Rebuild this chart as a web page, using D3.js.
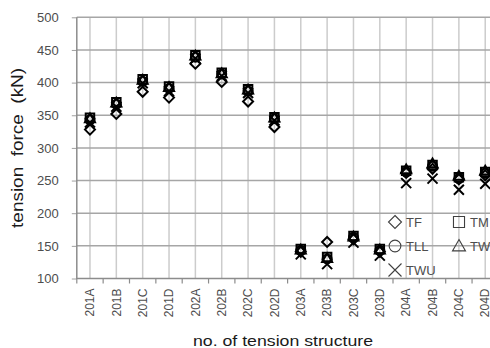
<!DOCTYPE html>
<html>
  <head>
    <meta charset="utf-8">
    <script src="https://d3js.org/d3.v7.min.js"></script>
    <style>
      body { margin: 0; background: #fff; }
      svg { display: block; font-family: "Liberation Sans", Arial, sans-serif; }
      .tick text { fill: #4d4d4d; }
      .axis-label { fill: #1a1a1a; }
      .legend text { fill: #4d4d4d; font-size: 13px; }
    </style>
  </head>
  <body>
    <svg width="490" height="348"></svg>
    <script>
      // data
      const categories = ['201A', '201B', '201C', '201D', '202A', '202B', '202C', '202D',
                          '203A', '203B', '203C', '203D', '204A', '204B', '204C', '204D'];
      const TF  = [328, 352, 386, 377, 429, 401, 371, 332, 141, 156, 160, 141, 262, 268, 252, 258];
      const TM  = [346, 370, 405, 394, 442, 415, 390, 347, 145, 133, 165, 145, 265, 274, 255, 263];
      const TLL = [343, 367, 402, 391, 439, 413, 387, 345, 143, 130, 163, 143, 263, 272, 253, 261];
      const TWL = [345, 369, 404, 393, 441, 414, 389, 346, 144, 131, 164, 144, 267, 276, 257, 265];
      const TWU = [339, 363, 399, 387, 437, 410, 384, 342, 137, 122, 155, 135, 246, 253, 236, 245];
      const yTicks = [100, 150, 200, 250, 300, 350, 400, 450, 500];

      const series = [
        { name: 'TF',  values: TF,  shape: 'diamond' },
        { name: 'TM',  values: TM,  shape: 'square' },
        { name: 'TLL', values: TLL, shape: 'circle' },
        { name: 'TWL', values: TWL, shape: 'triangle' },
        { name: 'TWU', values: TWU, shape: 'cross' }
      ];

      const svg = d3.select('svg');
      const margin = { left: 76.8, top: 17.3 };
      const innerWidth = 421.6;   // runs past the right edge, as in the original
      const innerHeight = 261.2;

      const g = svg.append('g')
          .attr('transform', `translate(${margin.left}, ${margin.top})`);

      const xScale = d3.scaleBand().domain(categories).range([0, innerWidth]);
      const yScale = d3.scaleLinear().domain([100, 500]).range([innerHeight, 0]);

      // marker outlines, r = half size
      const markerPath = (shape, r) => {
        const p = d3.path();
        if (shape === 'diamond') {
          p.moveTo(0, -r); p.lineTo(r, 0); p.lineTo(0, r); p.lineTo(-r, 0); p.closePath();
        } else if (shape === 'square') {
          p.rect(-r * 0.85, -r * 0.85, r * 1.7, r * 1.7);
        } else if (shape === 'circle') {
          p.arc(0, 0, r * 0.9, 0, 2 * Math.PI);
        } else if (shape === 'triangle') {
          p.moveTo(0, -r); p.lineTo(r, r * 0.75); p.lineTo(-r, r * 0.75); p.closePath();
        } else {
          p.moveTo(-r, -r); p.lineTo(r, r); p.moveTo(r, -r); p.lineTo(-r, r);
        }
        return p.toString();
      };

      // vertical grid at category centres
      g.append('g').selectAll('line').data(categories)
        .enter().append('line')
          .attr('x1', d => xScale(d) + xScale.bandwidth() / 2)
          .attr('x2', d => xScale(d) + xScale.bandwidth() / 2)
          .attr('y1', 0).attr('y2', innerHeight)
          .attr('stroke', '#cccccc').attr('stroke-width', 1.5);

      // horizontal grid + y axis
      const yAxis = d3.axisLeft(yScale)
        .tickValues(yTicks)
        .tickSize(5)
        .tickPadding(13);
      const yAxisG = g.append('g').call(yAxis);
      yAxisG.select('.domain').remove();
      yAxisG.selectAll('.tick line').attr('stroke', '#a0a0a0');
      yAxisG.selectAll('.tick text').style('font-size', '13px');
      g.append('g').selectAll('line').data(yTicks)
        .enter().append('line')
          .attr('x1', 0).attr('x2', innerWidth)
          .attr('y1', d => yScale(d)).attr('y2', d => yScale(d))
          .attr('stroke', d => d === 100 ? '#8c8c8c' : '#a6a6a6')
          .attr('stroke-width', 1.5);
      g.append('line')
        .attr('x1', 0).attr('x2', 0).attr('y1', 0).attr('y2', innerHeight + 0.5)
        .attr('stroke', '#8c8c8c').attr('stroke-width', 1.5);

      // x axis: ticks between categories, rotated labels at centres
      const xAxis = d3.axisBottom(xScale).tickSize(0).tickPadding(0);
      const xAxisG = g.append('g')
          .attr('transform', `translate(0, ${innerHeight})`)
          .call(xAxis);
      xAxisG.select('.domain').remove();
      xAxisG.selectAll('.tick text')
          .style('font-size', '12px')
          .attr('text-anchor', 'end')
          .attr('transform', 'translate(0, 10) rotate(-90)')
          .attr('x', 0).attr('y', 0).attr('dy', '0.35em');
      xAxisG.append('g').selectAll('line')
        .data(categories.map(c => xScale(c)).concat([innerWidth]))
        .enter().append('line')
          .attr('x1', d => d).attr('x2', d => d)
          .attr('y1', 0).attr('y2', 5)
          .attr('stroke', '#8c8c8c').attr('stroke-width', 1.2);

      // points
      series.forEach(s => {
        g.append('g').selectAll('path').data(s.values)
          .enter().append('path')
            .attr('d', markerPath(s.shape, 5))
            .attr('transform', (d, i) =>
              `translate(${xScale(categories[i]) + xScale.bandwidth() / 2}, ${yScale(d)})`)
            .attr('fill', 'none')
            .attr('stroke', '#000')
            .attr('stroke-width', 2);
      });

      // axis titles
      svg.append('text')
          .attr('class', 'axis-label')
          .attr('x', 283).attr('y', 346)
          .attr('text-anchor', 'middle')
          .style('font-size', '15px')
          .attr('textLength', 180).attr('lengthAdjust', 'spacingAndGlyphs')
          .text('no. of  tension structure');
      svg.append('text')
          .attr('class', 'axis-label')
          .attr('transform', `translate(23, ${margin.top + innerHeight / 2}) rotate(-90)`)
          .attr('text-anchor', 'middle')
          .style('font-size', '16px')
          .style('white-space', 'pre')
          .attr('textLength', 160).attr('lengthAdjust', 'spacingAndGlyphs')
          .text('tension  force  (kN)');

      // legend
      const legend = svg.append('g').attr('class', 'legend');
      const legendPos = [[395, 222], [459, 222], [395, 246], [459, 246], [395, 270]];
      series.forEach((s, i) => {
        const [lx, ly] = legendPos[i];
        legend.append('path')
            .attr('d', markerPath(s.shape, 6.5))
            .attr('transform', `translate(${lx}, ${ly})`)
            .attr('fill', 'none')
            .attr('stroke', '#404040')
            .attr('stroke-width', 1.1);
        legend.append('text')
            .attr('x', lx + 11).attr('y', ly + 4.5)
            .text(s.name);
      });
    </script>
  </body>
</html>
